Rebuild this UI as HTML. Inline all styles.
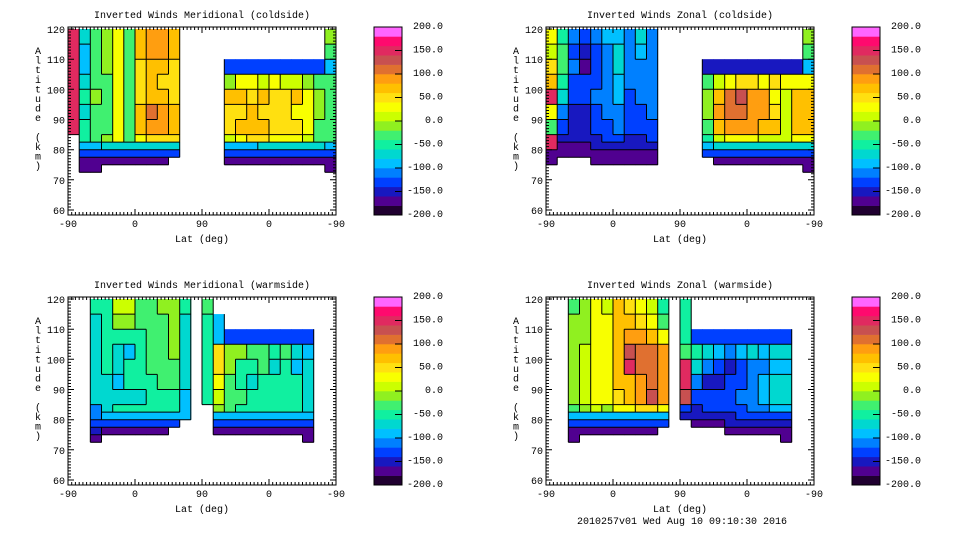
<!DOCTYPE html>
<html><head><meta charset="utf-8">
<style>
html,body{margin:0;padding:0;background:#fff;}
svg{display:block;}
text{font-family:"Liberation Mono",monospace;font-size:10px;fill:#000;}
</style></head>
<body>
<svg id="chart" width="960" height="540" viewBox="0 0 960 540" xmlns="http://www.w3.org/2000/svg">
<rect x="0" y="0" width="960" height="540" fill="#fff"/>
<text x="682" y="524" text-anchor="middle">2010257v01 Wed Aug 10 09:10:30 2016</text>
</svg>
<script>
const N = null;
// shared category edges (altitude rows, top to bottom, km)
const rowTops = [120,115,110,105,100,95,90,85,82.5,80,77.5,75];
const rowBots = [115,110,105,100,95,90,85,82.5,80,77.5,75,72.5];
const colStepDeg = 15; // 24 columns across the 360-degree folded lat axis
const xTickLabels = ['-90','0','90','0','-90'];
const yTickLabels = [60,70,80,90,100,110,120];
const cbarLabels = ['200.0','150.0','100.0','50.0','0.0','-50.0','-100.0','-150.0','-200.0'];
const levelColors = ['#200030','#500090','#1818c0','#0040ff','#0080ff','#00c0ff','#00d8d0','#10f0a0','#40f070','#90f020','#ccff00','#f8ff00','#ffe010','#ffc000','#ff9e10','#e07030','#c85050','#e02a60','#ff0a6e','#ff66ff'];

const merCold = [
[150,-70,-30,-20,30,-40,70,90,80,60,N,N,N,N,N,N,N,N,N,N,N,N,N,-20],
[150,-90,-30,-10,20,-40,60,90,80,60,N,N,N,N,N,N,N,N,N,N,N,N,N,-30],
[150,-100,-40,-20,30,-40,50,70,60,50,N,N,N,N,-130,-130,-130,-130,-130,-130,-130,-130,-130,-100],
[140,-80,-30,-30,20,-40,50,60,50,50,N,N,N,N,-10,30,20,10,20,10,0,-10,-40,-40],
[140,-60,-20,-30,30,-40,50,70,70,50,N,N,N,N,60,60,40,60,50,50,60,20,-20,-30],
[140,-80,-40,-30,30,-40,70,110,90,60,N,N,N,N,50,40,60,40,50,40,30,20,-20,-30],
[140,-60,-40,-30,30,-40,60,90,80,60,N,N,N,N,50,60,60,70,50,40,40,20,-30,-30],
[N,-50,-40,-20,20,-40,30,40,40,40,N,N,N,N,10,20,40,40,30,30,20,0,-30,-40],
[N,-100,-90,-80,-70,-70,-80,-80,-80,-80,N,N,N,N,-90,-90,-90,-80,-80,-80,-80,-80,-80,-90],
[N,-140,-140,-140,-140,-140,-140,-140,-140,-130,N,N,N,N,-140,-140,-140,-140,-140,-140,-140,-140,-140,-140],
[N,-170,-170,-170,-170,-170,-170,-170,-170,N,N,N,N,N,-170,-170,-170,-170,-170,-170,-170,-170,-170,-170],
[N,-180,-180,N,N,N,N,N,N,N,N,N,N,N,N,N,N,N,N,N,N,N,N,-180]
];
const zonCold = [
[20,-60,-120,-130,-120,-100,-90,-120,-80,-110,N,N,N,N,N,N,N,N,N,N,N,N,N,-20],
[0,-40,-130,-150,-130,-120,-80,-110,-100,-110,N,N,N,N,N,N,N,N,N,N,N,N,N,-40],
[40,-40,-110,-170,-130,-120,-80,-120,-110,-120,N,N,N,N,-150,-150,-150,-150,-150,-150,-150,-150,-150,-100],
[60,-60,-130,-140,-130,-110,-90,-110,-120,-120,N,N,N,N,-40,0,30,40,40,30,40,20,30,20],
[140,-80,-140,-130,-120,-120,-100,-130,-120,-120,N,N,N,N,-20,70,100,120,90,80,30,10,60,60],
[20,-120,-150,-150,-130,-120,-110,-130,-130,-120,N,N,N,N,-20,80,100,110,90,80,50,10,60,60],
[-40,-140,-150,-150,-140,-130,-120,-140,-140,-130,N,N,N,N,-40,70,80,90,80,70,60,10,70,70],
[150,-150,-160,-160,-150,-140,-140,-150,-150,-140,N,N,N,N,-60,0,20,20,20,10,0,0,20,20],
[150,-170,-170,-170,-160,-150,-150,-160,-160,-150,N,N,N,N,-100,-80,-80,-80,-80,-80,-80,-80,-80,-80],
[-170,-170,-170,-170,-170,-170,-170,-170,-170,-170,N,N,N,N,-140,-140,-140,-140,-140,-140,-140,-140,-140,-140],
[-170,N,N,N,-180,-180,-180,-180,-180,-180,N,N,N,N,N,-180,-180,-180,-180,-180,-180,-180,-180,-180],
[N,N,N,N,N,N,N,N,N,N,N,N,N,N,N,N,N,N,N,N,N,N,N,-180]
];
const merWarm = [
[N,N,-60,-60,0,10,-30,-30,-20,-10,-60,N,-40,N,N,N,N,N,N,N,N,N,N,N],
[N,N,-70,-60,-20,-20,-40,-30,-30,-20,-70,N,-60,-90,N,N,N,N,N,N,N,N,N,N],
[N,N,-70,-60,-60,-50,-50,-40,-30,-20,-80,N,-60,-100,-130,-130,-130,-130,-130,-130,-130,-130,N,N],
[N,N,-70,-60,-80,-90,-50,-40,-30,-20,-80,N,-60,40,-20,-20,-40,-40,-60,-40,-80,-90,N,N],
[N,N,-70,-60,-70,-60,-50,-40,-30,-30,-80,N,-60,50,-20,-50,-60,-40,-70,-50,-90,-80,N,N],
[N,N,-70,-80,-90,-60,-50,-50,-40,-40,-80,N,-60,20,-30,-50,-80,-50,-60,-50,-60,-80,N,N],
[N,N,-80,-70,-70,-70,-80,-50,-50,-50,-90,N,-60,0,-30,-40,-60,-50,-60,-50,-60,-70,N,N],
[N,N,-110,-70,-60,-60,-60,-60,-60,-60,-90,N,N,-20,-40,-50,-50,-50,-50,-50,-60,-70,N,N],
[N,N,-120,-100,-90,-90,-90,-90,-90,-90,-100,N,N,-100,-100,-100,-100,-100,-100,-100,-100,-100,N,N],
[N,N,-140,-140,-140,-140,-140,-140,-140,-140,N,N,N,-140,-140,-140,-140,-140,-140,-140,-140,-140,N,N],
[N,N,-160,-170,-170,-170,-170,-170,-170,N,N,N,N,-170,-170,-170,-170,-170,-170,-170,-170,-170,N,N],
[N,N,-170,N,N,N,N,N,N,N,N,N,N,N,N,N,N,N,N,N,N,-170,N,N]
];
const zonWarm = [
[N,N,-30,-20,30,10,60,40,20,0,-60,N,-60,N,N,N,N,N,N,N,N,N,N,N],
[N,N,-20,-10,30,20,60,60,50,30,-40,N,-60,N,N,N,N,N,N,N,N,N,N,N],
[N,N,-20,-10,30,30,70,90,90,70,20,N,-60,-140,-140,-140,-140,-140,-140,-140,-140,-140,N,N],
[N,N,-10,10,20,30,70,130,110,100,80,N,-40,-60,-80,-90,-110,-90,-80,-100,-70,-80,N,N],
[N,N,-20,0,30,30,70,140,110,100,90,N,140,-80,-110,-140,-150,-130,-120,-110,-100,-90,N,N],
[N,N,-20,10,30,20,60,70,90,100,90,N,150,-120,-150,-150,-140,-130,-110,-100,-80,-80,N,N],
[N,N,-20,10,30,20,50,70,90,130,90,N,130,-140,-140,-130,-130,-120,-110,-90,-70,-80,N,N],
[N,N,-40,-20,0,-10,20,30,40,40,30,N,-140,-150,-140,-140,-140,-130,-120,-110,-100,-100,N,N],
[N,N,-90,-90,-90,-90,-90,-90,-90,-90,-90,N,-150,-160,-160,-150,-150,-140,-140,-130,-130,-130,N,N],
[N,N,-140,-140,-140,-140,-140,-140,-140,-140,-140,N,N,-170,-170,-170,-160,-160,-150,-150,-150,-150,N,N],
[N,N,-170,-170,-170,-170,-170,-170,-170,-170,N,N,N,N,N,N,-180,-180,-180,-180,-180,-180,N,N],
[N,N,-180,N,N,N,N,N,N,N,N,N,N,N,N,N,N,N,N,N,N,-170,N,N]
];

const svg = document.getElementById('chart');
const NS = 'http://www.w3.org/2000/svg';
function mk(tag, attrs, parent){
  const e = document.createElementNS(NS, tag);
  for (const k in attrs) e.setAttribute(k, attrs[k]);
  (parent||svg).appendChild(e); return e;
}
function levelOf(v){ let i = Math.floor((v+200)/20); return Math.max(0, Math.min(levelColors.length-1, i)); }

const panels = [
  {ox:0, oy:0, title:'Inverted Winds Meridional (coldside)', data:merCold, name:'meridional-coldside'},
  {ox:478, oy:0, title:'Inverted Winds Zonal (coldside)', data:zonCold, name:'zonal-coldside'},
  {ox:0, oy:270, title:'Inverted Winds Meridional (warmside)', data:merWarm, name:'meridional-warmside'},
  {ox:478, oy:270, title:'Inverted Winds Zonal (warmside)', data:zonWarm, name:'zonal-warmside'}
];

panels.forEach(p => {
  const g = mk('g', {});
  
  
  const L = 68 + p.ox, R = 336 + p.ox, T = 27 + p.oy, B = 215 + p.oy;
  const xs = u => L + u * (R - L) / 360;
  const ys = a => T + 2 + (120 - a) * (181 / 60);
  const data = p.data;
  for (let r = 0; r < data.length; r++) {
    for (let c = 0; c < data[r].length; c++) {
      const v = data[r][c]; if (v === null) continue;
      const x0 = xs(c*colStepDeg), x1 = xs((c+1)*colStepDeg);
      const y0 = ys(rowTops[r]), y1 = ys(rowBots[r]);
      const cell = mk('rect', {x:x0.toFixed(2), y:y0.toFixed(2), width:(x1-x0+0.4).toFixed(2), height:(y1-y0+0.4).toFixed(2), fill:levelColors[levelOf(v)]}, g);
      
      
    }
  }
  let d = '';
  for (let r = 0; r < data.length; r++) {
    for (let c = 0; c < data[r].length; c++) {
      const v = data[r][c]; if (v === null) continue;
      const x1 = xs((c+1)*colStepDeg), y1 = ys(rowBots[r]);
      const x0 = xs(c*colStepDeg), y0 = ys(rowTops[r]);
      const rn = data[r][c+1];
      if (rn === undefined || rn === null || levelOf(rn) !== levelOf(v)) d += `M${x1.toFixed(1)},${y0.toFixed(1)}V${y1.toFixed(1)}`;
      const ln = data[r][c-1];
      if (ln === undefined || ln === null) d += `M${x0.toFixed(1)},${y0.toFixed(1)}V${y1.toFixed(1)}`;
      const bn = data[r+1] ? data[r+1][c] : null;
      if (bn === null || bn === undefined || levelOf(bn) !== levelOf(v)) d += `M${x0.toFixed(1)},${y1.toFixed(1)}H${x1.toFixed(1)}`;
    }
  }
  const cl = mk('path', {d:d, stroke:'#000', 'stroke-width':1, fill:'none'}, g);
  
  
  const fr = mk('rect', {x:L, y:T, width:R-L, height:B-T, fill:'none', stroke:'#000', 'stroke-width':1}, g);
  
  
  let td = '';
  for (let u = 0; u <= 360; u += 5) {
    const x = xs(u).toFixed(1); const len = (u % 90 === 0) ? 6 : 3;
    td += `M${x},${B}v${-len}M${x},${T}v${len}`;
  }
  for (let a = 60; a <= 120; a += 1) {
    const y = ys(a).toFixed(1); const len = (a % 10 === 0) ? 6 : 3;
    td += `M${L},${y}h${len}M${R},${y}h${-len}`;
  }
  const tk = mk('path', {d:td, stroke:'#000', 'stroke-width':1, fill:'none'}, g);
  
  
  xTickLabels.forEach((lab, i) => {
    const t = mk('text', {x:xs(i*90).toFixed(1), y:B+12, 'text-anchor':'middle'}, g);
    t.textContent = lab;
    
    
  });
  yTickLabels.forEach(a => {
    const t = mk('text', {x:L-3, y:(ys(a)+4).toFixed(1), 'text-anchor':'end'}, g);
    t.textContent = a;
    
    
  });
  const ttl = mk('text', {x:(L+R)/2, y:T-9, 'text-anchor':'middle'}, g);
  ttl.textContent = p.title;
  
  
  const xl = mk('text', {x:(L+R)/2, y:B+27, 'text-anchor':'middle'}, g);
  xl.textContent = 'Lat (deg)';
  
  
  const yl = mk('g', {}, g);
  
  
  'Altitude (km)'.split('').forEach((ch, i) => {
    if (ch === ' ') return;
    const t = mk('text', {x:38 + p.ox, y:(T + 27 + i*9.6).toFixed(1), 'text-anchor':'middle'}, yl);
    t.textContent = ch;
  });
  const cb = mk('g', {}, g);
  
  
  const cL = 374 + p.ox, cR = 402 + p.ox;
  const bh = (B - T) / levelColors.length;
  levelColors.forEach((col, i) => {
    const rr = mk('rect', {x:cL, y:(B - (i+1)*bh).toFixed(2), width:cR-cL, height:(bh+0.3).toFixed(2), fill:col}, cb);
    
    
  });
  mk('rect', {x:cL, y:T, width:cR-cL, height:B-T, fill:'none', stroke:'#000', 'stroke-width':1}, cb);
  cbarLabels.forEach((lab, i) => {
    const yy = T + i * (B - T) / (cbarLabels.length - 1);
    if (i > 0 && i < cbarLabels.length - 1) mk('path', {d:`M${cR-7},${yy.toFixed(1)}h7`, stroke:'#000'}, cb);
    const t = mk('text', {x:443 + p.ox, y:(yy + 2).toFixed(1), 'text-anchor':'end'}, cb);
    t.textContent = lab;
    
    
  });
});
</script>
</body></html>
